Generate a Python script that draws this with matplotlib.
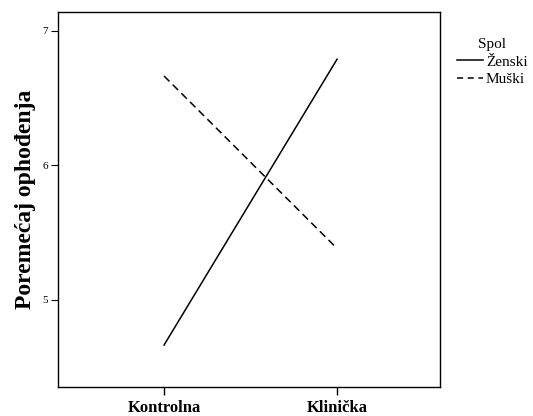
import matplotlib
matplotlib.use("Agg")
import matplotlib.pyplot as plt
from matplotlib.lines import Line2D

plt.rcParams['font.family'] = ['Liberation Serif', 'DejaVu Serif']

categories = ["Kontrolna", "Klinička"]
zenski = [4.665, 6.79]
muski = [6.665, 5.383]
series_names = ["Ženski", "Muški"]

W, H = 533, 416
fig = plt.figure(figsize=(W/100, H/100), dpi=100)
ax = fig.add_axes([58/W, 1-387/H, (440-58)/W, (387-12)/H])

x = list(range(len(categories)))
ax.plot(x, zenski, color='black', lw=1.1, linestyle='-')
ax.plot(x, muski, color='black', lw=1.1, linestyle=(0, (5, 3)))

ax.set_xlim(-0.613, 1.595)
ax.set_ylim(4.353, 7.141)
ax.set_xticks(x)
ax.set_xticklabels(categories, fontsize=12, fontweight='bold')
ax.set_yticks([5, 6, 7])
ax.set_yticklabels(['5', '6', '7'], fontsize=8)
ax.tick_params(axis='y', length=5, width=0.8, pad=2)
ax.tick_params(axis='x', length=6, width=1, pad=3)
for s in ax.spines.values():
    s.set_linewidth(1)
ax.set_ylabel("Poremećaj ophođenja", fontsize=17, fontweight='bold', labelpad=5)

handles = [Line2D([], [], color='black', lw=1.1, linestyle='-'),
           Line2D([], [], color='black', lw=1.1, linestyle=(0, (4, 3)))]
fig.legend(handles, series_names, title="Spol", loc='upper left',
           bbox_to_anchor=(457/W, 1-38/H), frameon=False, fontsize=11,
           title_fontsize=11, handlelength=1.7, handletextpad=0.2,
           labelspacing=0.25, borderpad=0, borderaxespad=0)
ax.figure.legends[0]._legend_title_box._text.set_y(0)
fig.savefig("out.png", dpi=100)
